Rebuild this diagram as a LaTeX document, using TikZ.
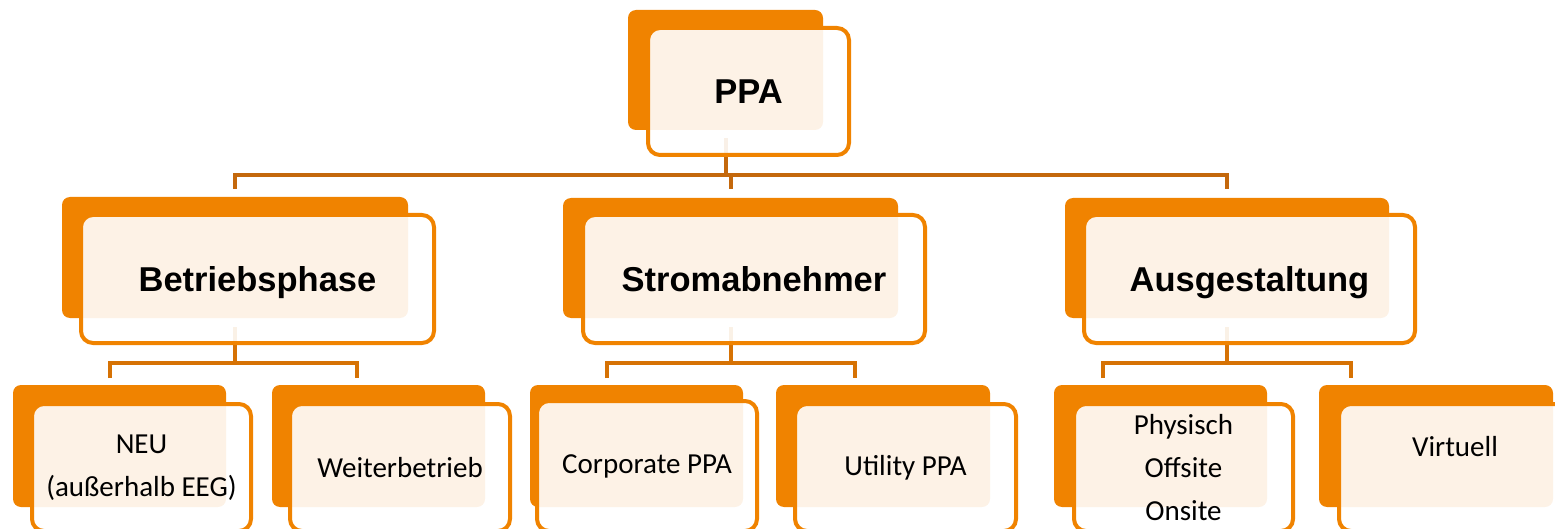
\documentclass[tikz,border=0pt]{standalone}
\usepackage{fontspec}
\newfontfamily\hfont{Liberation Sans}
\newfontfamily\cfont{Carlito}
\definecolor{po}{RGB}{240,131,0}
\definecolor{lineA}{RGB}{196,104,12}
\definecolor{lineB}{RGB}{214,114,4}
\begin{document}
\begin{tikzpicture}[x=1pt,y=-1pt,
  back/.style={fill=po, rounded corners=8pt},
  front/.style={draw=po, line width=4pt, fill=white, fill opacity=0.9, text opacity=1,
    rounded corners=12pt, inner sep=0pt, align=center, text=black},
  topbox/.style={front, font=\hfont\bfseries\fontsize{34.5}{40}\selectfont, text height=28pt, text depth=4pt},
  leafbox/.style={front, font=\cfont\fontsize{29}{43}\selectfont},
  connA/.style={draw=lineA, line width=4pt},
  connB/.style={draw=lineB, line width=4pt}]
\useasboundingbox (0,0) rectangle (1555,529);
\clip (0,0) rectangle (1555,529);

% ---------- connector points ----------
\coordinate (ppaIn) at (725.5,138);
\coordinate (j0) at (725.5,175);
\coordinate (j0b) at (730.5,175);
\coordinate (m1top) at (235,189);
\coordinate (m2top) at (730.5,189);
\coordinate (m3top) at (1227,189);

\coordinate (m1in) at (235,327);
\coordinate (m2in) at (731,327);
\coordinate (m3in) at (1227,327);
\coordinate (j1) at (235,362.5);
\coordinate (j2) at (731,362.5);
\coordinate (j3) at (1227,362.5);
\coordinate (l1top) at (110,378);
\coordinate (l2top) at (357,378);
\coordinate (l3top) at (607,378);
\coordinate (l4top) at (855,378);
\coordinate (l5top) at (1103,378);
\coordinate (l6top) at (1351,378);

% ---------- connectors ----------
\draw[connA] (ppaIn) -- (j0);
\draw[connA] (m1top) |- (j0) -| (m3top);
\draw[connA] (j0b) -- (m2top);

\draw[connB] (m1in) -- (j1);
\draw[connB] (l1top) |- (j1) -| (l2top);
\draw[connB] (m2in) -- (j2);
\draw[connB] (l3top) |- (j2) -| (l4top);
\draw[connB] (m3in) -- (j3);
\draw[connB] (l5top) |- (j3) -| (l6top);

% ---------- back plates ----------
\fill[back] (628,10) rectangle (823,130);
\fill[back] (62,197) rectangle (408,318);
\fill[back] (563,198) rectangle (898,318);
\fill[back] (1065,198) rectangle (1389,318);
\fill[back] (13,385) rectangle (226,507);
\fill[back] (272,385) rectangle (485,507);
\fill[back] (530,385) rectangle (743,507);
\fill[back] (776,385) rectangle (990,507);
\fill[back] (1054,385) rectangle (1267,507);
\fill[back] (1319,385) rectangle (1553,507);

% ---------- front boxes ----------
\node[topbox, minimum width=201pt, minimum height=127pt] (ppa) at (748.5,91.5) {PPA};
\node[topbox, minimum width=353pt, minimum height=128pt] (betrieb) at (257.5,279) {Betriebsphase};
\node[topbox, minimum width=342pt, minimum height=128pt] (strom) at (754,279) {Stromabnehmer};
\node[topbox, minimum width=331pt, minimum height=128pt] (ausg) at (1249.5,279) {Ausgestaltung};

\node[leafbox, minimum width=219pt, minimum height=127pt] (neu) at (141.5,467.5) {NEU\\(außerhalb EEG)};
\node[leafbox, minimum width=220pt, minimum height=127pt] (weiter) at (400,467.5) {Weiterbetrieb};
\node[leafbox, minimum width=220pt, minimum height=130pt] (corp) at (647,466) {Corporate PPA};
\node[leafbox, minimum width=221pt, minimum height=127pt] (util) at (905.5,467.5) {Utility PPA};
\node[leafbox, minimum width=219pt, minimum height=127pt] (phys) at (1183.5,467.5) {Physisch\\Offsite\\Onsite};
\node[leafbox, minimum width=232pt, minimum height=127pt] (virt) at (1455,467.5) {Virtuell\\~};
\end{tikzpicture}
\end{document}
